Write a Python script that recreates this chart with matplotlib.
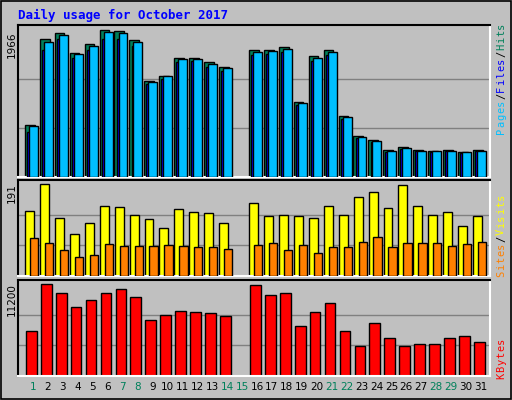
import matplotlib
matplotlib.use("Agg")
import matplotlib.pyplot as plt
import numpy as np

days = list(range(1, 32))
hits = [700,1845,1926,1657,1778,1966,1953,1832,1293,1360,1589,1589,1536,1468,0,
        1697,1697,1738,1010,1616,1697,822,552,498,364,404,364,350,364,337,364]
files = [680,1815,1905,1650,1760,1945,1925,1805,1275,1350,1575,1585,1515,1460,0,
         1680,1690,1720,990,1600,1680,805,540,485,355,395,355,345,355,330,355]
pages = [600,1700,1850,1600,1700,1850,1850,1750,1240,1320,1540,1550,1480,1420,0,
         1640,1650,1680,960,1560,1640,780,520,470,340,380,345,335,345,320,345]
visits = [136,191,120,88,111,145,143,128,118,99,139,134,132,111,0,
          153,124,128,124,120,145,128,164,174,141,189,145,128,134,105,124]
sites = [80,69,55,40,44,67,63,63,63,65,63,61,61,57,0,
         65,69,55,65,48,61,61,71,82,61,69,69,69,63,67,71]
kbytes = [5475,11200,10080,8460,9330,10080,10575,9700,6840,7465,7960,7840,7710,7340,0,
          11070,9950,10080,6100,7840,8960,5475,3610,6470,4600,3610,3860,3860,4600,4850,4100]
weekend = [1,7,8,14,15,21,22,28,29]

bg = "#C0C0C0"
W, H = 512, 400
fig = plt.figure(figsize=(W/100, H/100), dpi=100, facecolor=bg)
fig.patches.append(plt.Rectangle((0.002,0.002),0.996,0.996,transform=fig.transFigure,
                   fill=False,ec="black",lw=1.2))
mono = "DejaVu Sans Mono"
fig.text(18/W, 1-15/H, "Daily usage for October 2017", color="#0000FF",
         fontsize=9, fontweight="bold", family=mono, va="center")

def mkax(top, bot):
    ax = fig.add_axes([18/W, 1-bot/H, (490-18)/W, (bot-top)/H])
    ax.set_facecolor(bg)
    ax.set_xlim(0.0, 31.6)
    ax.set_xticks([]); ax.set_yticks([])
    for s in ax.spines.values():
        s.set_color("white"); s.set_linewidth(1.5)
    ax.spines["left"].set_color("black"); ax.spines["top"].set_color("black")
    return ax

d = np.array(days, float)
ok = np.array(hits) > 0

ax1 = mkax(25, 177)
ax1.set_ylim(0, 1966/0.965)
for g in (1966/3, 1966*2/3):
    ax1.axhline(g, color="#808080", lw=1, zorder=0)
ax1.bar(d[ok]-0.54, np.array(hits)[ok], width=0.65, align="edge", color="#00805A", ec="black", lw=1, zorder=2)
ax1.bar(d[ok]-0.40, np.array(pages)[ok], width=0.6, align="edge", color="#0000FF", ec="black", lw=1, zorder=3)
ax1.bar(d[ok]-0.27, np.array(files)[ok], width=0.6, align="edge", color="#00BFFF", ec="black", lw=1, zorder=4)

ax2 = mkax(180, 276)
ax2.set_ylim(0, 191/0.955)
for g in (191/3, 191*2/3):
    ax2.axhline(g, color="#808080", lw=1, zorder=0)
ax2.bar(d[ok]-0.53, np.array(visits)[ok], width=0.6, align="edge", color="#FFFF00", ec="black", lw=1, zorder=2)
ax2.bar(d[ok]-0.2, np.array(sites)[ok], width=0.55, align="edge", color="#FF8000", ec="black", lw=1, zorder=3)

ax3 = mkax(280, 376)
ax3.set_ylim(0, 11200/0.955)
for g in (11200/3, 11200*2/3):
    ax3.axhline(g, color="#808080", lw=1, zorder=0)
ax3.bar(d[ok]-0.47, np.array(kbytes)[ok], width=0.72, align="edge", color="#FF0000", ec="black", lw=1, zorder=2)
for i in days:
    ax3.text(i, -0.06, str(i), transform=ax3.get_xaxis_transform(), ha="center", va="top",
             fontsize=7.5, color="#00805A" if i in weekend else "black")

for txt, y in (("1966", 45), ("191", 193), ("11200", 300)):
    fig.text(12/W, 1-y/H, txt, rotation=90, fontsize=7.5, ha="center", va="center")

def rlabel(parts, ycenter):
    total = sum(len(p) for p, c in parts)
    ch = 7.0
    y = ycenter + total*ch/2
    for p, c in parts:
        for chn in p:
            fig.text(501/W, 1-y/H, chn, rotation=90, fontsize=7.5, family=mono, color=c,
                     ha="center", va="bottom")
            y -= ch
rlabel([("Pages", "#00BFFF"), ("/", "black"), ("Files", "#0000FF"), ("/", "black"), ("Hits", "#00805A")], 78)
rlabel([("Sites", "#FF8000"), ("/", "black"), ("Visits", "#FFFF00")], 235)
rlabel([("KBytes", "#FF0000")], 358)

fig.savefig("out.png", dpi=100, facecolor=bg)
